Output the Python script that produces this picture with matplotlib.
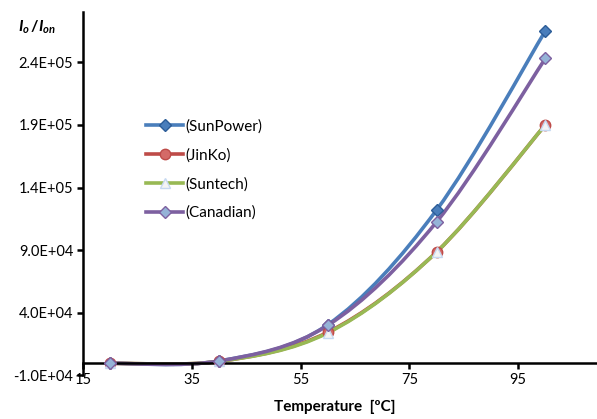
import numpy as np
import matplotlib
matplotlib.use("Agg")
import matplotlib.pyplot as plt
from matplotlib.path import Path
from matplotlib.patches import PathPatch
from matplotlib.lines import Line2D

plt.rcParams['font.family'] = ['Lato', 'DejaVu Sans']
plt.rcParams['mathtext.fontset'] = 'custom'
plt.rcParams['mathtext.it'] = 'Lato:italic:bold'
plt.rcParams['mathtext.rm'] = 'Lato:bold'

# dados
temperaturas = [20, 40, 60, 80, 100]
sunpower = [-300, 1500, 30500, 122000, 265000]
jinko = [-300, 1200, 24500, 88500, 190000]
suntech = [-300, 1200, 24000, 88500, 190000]
canadian = [-300, 1500, 30000, 112500, 243000]

series = [
    ("(SunPower)", sunpower, "#4A7EBB", "D", "#4A7EBB", "#2C5D98", 6),
    ("(JinKo)", jinko, "#BE4B48", "o", "#D46A67", "#BE4B48", 7.5),
    ("(Suntech)", suntech, "#98B954", "^", "#F4F4F4", "#C6D9F1", 7),
    ("(Canadian)", canadian, "#7D60A0", "D", "#95B3D7", "#7D60A0", 6),
]

y_ticks = [-1.0e4, 4.0e4, 9.0e4, 1.4e5, 1.9e5, 2.4e5]
x_ticks = [15, 35, 55, 75, 95]


def curva_suave(ax, xs, ys, cor):
    """Linha suavizada estilo Excel (Bezier com pontos de controle Catmull-Rom)"""
    pts = np.column_stack([xs, ys]).astype(float)
    ext = np.vstack([pts[0], pts, pts[-1]])
    verts = [pts[0]]
    codes = [Path.MOVETO]
    for i in range(len(pts) - 1):
        p0, p1, p2, p3 = ext[i], ext[i + 1], ext[i + 2], ext[i + 3]
        c1 = p1 + (p2 - p0) / 6
        c2 = p2 - (p3 - p1) / 6
        verts += [c1, c2, p2]
        codes += [Path.CURVE4] * 3
    ax.add_patch(PathPatch(Path(verts, codes), fill=False, edgecolor=cor,
                           lw=2.6, capstyle="round", joinstyle="round"))


fig = plt.figure(figsize=(5.97, 4.19), dpi=100)
ax = fig.add_axes([0.139, 0.104, 0.861, 0.867])

handles = []
for nome, valores, cor, marcador, mfc, mec, ms in series:
    curva_suave(ax, temperaturas, valores, cor)
    ax.plot(temperaturas, valores, ls="none", marker=marcador, ms=ms,
            mfc=mfc, mec=mec, mew=1.0, zorder=3)
    handles.append(Line2D([], [], color=cor, lw=2.6, marker=marcador, ms=ms,
                          mfc=mfc, mec=mec, mew=1.0, label=nome))

ax.set_xlim(15, 109.5)
ax.set_ylim(-1.0e4, 2.8e5)
ax.set_xticks(x_ticks)
ax.set_yticks(y_ticks)
ax.set_yticklabels(["%.1E" % v for v in y_ticks])

ax.spines["top"].set_visible(False)
ax.spines["right"].set_visible(False)
ax.spines["bottom"].set_position(("data", 0))
for s in ("left", "bottom"):
    ax.spines[s].set_linewidth(1.8)
ax.tick_params(axis="both", direction="out", length=4, width=1.8,
               labelsize=10.5, colors="black", pad=3)

fig.text(0.03, 0.925, r"$I_o\,/I_{on}$", fontsize=11.5)
fig.text(0.56, 0.018, "Temperature  [ºC]", fontsize=11, fontweight="bold",
         ha="center")

ax.legend(handles=handles, loc="upper left", bbox_to_anchor=(0.235, 0.73),
          bbox_transform=fig.transFigure, frameon=False, fontsize=11,
          handlelength=2.4, handletextpad=0.15, labelspacing=0.95,
          borderaxespad=0)

fig.savefig("out.png", dpi=100)
